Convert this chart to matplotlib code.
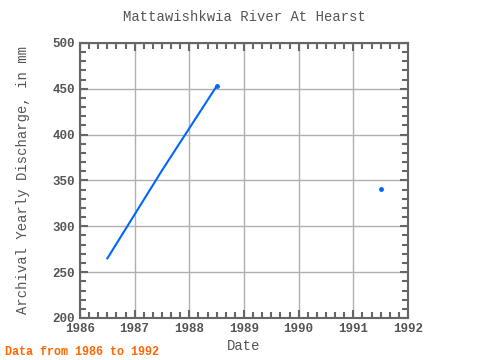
import matplotlib
matplotlib.use('Agg')
import matplotlib.pyplot as plt
import numpy as np
from matplotlib.ticker import MultipleLocator

# yearly discharge, plotted at mid-year
years_line = [1986.5, 1987.5, 1988.5]
vals_line = [265, 361, 453]
years_pt = [1991.5]
vals_pt = [341]

plt.rcParams['font.family'] = ['Liberation Mono', 'DejaVu Sans Mono']
plt.rcParams['font.weight'] = 'bold'
grey = '#666666'
blue = '#0066ff'

fig = plt.figure(figsize=(4.8, 3.6), dpi=100)
ax = fig.add_axes([80/480, 1-318/360, 328/480, 275/360])

ax.plot(years_line, vals_line, color=blue, lw=1.5)
ax.plot(years_line[-1:], vals_line[-1:], 'o', color=blue, ms=2.5)
ax.plot(years_pt, vals_pt, 'o', color=blue, ms=2.5)

ax.set_xlim(1986, 1992)
ax.set_ylim(200, 500)
ax.xaxis.set_major_locator(MultipleLocator(1))
ax.xaxis.set_minor_locator(MultipleLocator(1/6))
ax.yaxis.set_major_locator(MultipleLocator(50))
ax.yaxis.set_minor_locator(MultipleLocator(10))
ax.xaxis.set_major_formatter(matplotlib.ticker.FuncFormatter(lambda v, p: '%d' % round(v)))

ax.grid(True, which='major', color='#b0b0b0', lw=1)
ax.tick_params(which='both', direction='in', top=True, right=True, colors=grey,
               labelsize=9, labelcolor='#555555')
ax.tick_params(which='major', length=6, width=1.5)
ax.tick_params(which='minor', length=4, width=1.5)
for s in ax.spines.values():
    s.set_color(grey)
    s.set_linewidth(1.5)

ax.set_title('Mattawishkwia River At Hearst', fontsize=10, color='#555555', pad=16)
ax.set_xlabel('Date', fontsize=10, color='#555555', labelpad=3)
ax.set_ylabel('Archival Yearly Discharge, in mm', fontsize=10, color='#555555', labelpad=16)
fig.text(5/480, 1-352/360, 'Data from 1986 to 1992', fontsize=8.5, color='#ff6600',
         va='center', ha='left')

fig.savefig('out.png', dpi=100)
